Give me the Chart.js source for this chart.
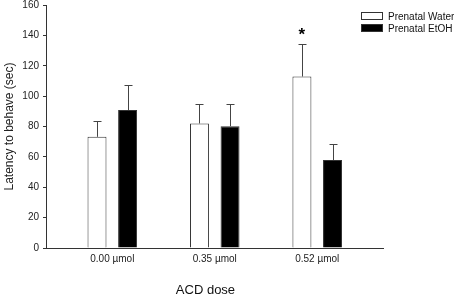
<!DOCTYPE html>
<html><head><meta charset="utf-8">
<script src="https://cdn.jsdelivr.net/npm/chart.js@4"></script>
<style>
html,body{margin:0;padding:0;background:#fff;}
#wrap{position:relative;width:454px;height:296px;}
#legend{position:absolute;left:361px;top:10px;font-family:"Liberation Sans",Arial,sans-serif;font-size:10px;color:#111;white-space:nowrap;}
.li{display:flex;align-items:center;height:12px;margin-bottom:0px;}
.sw{width:20px;height:6px;border:1px solid #333;margin-right:5px;}
</style></head>
<body><div id="wrap"><canvas id="c" width="454" height="296"></canvas><div id="legend"></div></div>
<script>
const categories = ["0.00 µmol", "0.35 µmol", "0.52 µmol"];
const seriesNames = ["Prenatal Water", "Prenatal EtOH"];
const waterMeans = [73.2, 82.0, 112.9];
const waterSEM = [10.1, 13.1, 21.7];
const etohMeans = [90.8, 80.2, 57.9];
const etohSEM = [16.6, 14.9, 10.3];
const yTicks = [0, 20, 40, 60, 80, 100, 120, 140, 160];
const sigMarks = [{ds: 0, cat: 2, text: "*"}];

const fills = ["#ffffff", "#000000"];
const means = [waterMeans, etohMeans];
const sems = [waterSEM, etohSEM];

const errPlugin = {
  id: 'errbars',
  afterDatasetsDraw(chart) {
    const ctx = chart.ctx, ys = chart.scales.y;
    ctx.save();
    chart.data.datasets.forEach((ds, di) => {
      const meta = chart.getDatasetMeta(di);
      meta.data.forEach((bar, i) => {
        const top = ys.getPixelForValue(means[di][i] + sems[di][i]);
        ctx.strokeStyle = '#444'; ctx.lineWidth = 1;
        ctx.beginPath();
        const x = Math.round(bar.x) + 0.5;
        ctx.moveTo(x, bar.y); ctx.lineTo(x, Math.round(top) + 0.5);
        ctx.moveTo(x - 4, Math.round(top) + 0.5); ctx.lineTo(x + 4, Math.round(top) + 0.5);
        ctx.stroke();
      });
    });
    sigMarks.forEach(m => {
      const bar = chart.getDatasetMeta(m.ds).data[m.cat];
      const top = ys.getPixelForValue(means[m.ds][m.cat] + sems[m.ds][m.cat]);
      ctx.fillStyle = '#000';
      ctx.font = 'bold 17px "Liberation Sans", Arial, sans-serif';
      ctx.textAlign = 'center'; ctx.textBaseline = 'middle';
      ctx.fillText(m.text, bar.x, top - 8);
    });
    ctx.restore();
  }
};

const chart = new Chart(document.getElementById('c'), {
  type: 'bar',
  data: {
    datasets: seriesNames.map((n, di) => ({
      label: n,
      data: means[di].map((v, i) => ({x: i, y: v})),
      backgroundColor: fills[di],
      borderColor: '#333',
      borderWidth: 1,
      categoryPercentage: 0.597,
      barPercentage: 0.62
    }))
  },
  options: {
    responsive: false,
    animation: false,
    devicePixelRatio: 1,
    layout: {padding: {top: 5, right: 71, left: 0, bottom: 0}},
    plugins: {legend: {display: false}, tooltip: {enabled: false}},
    scales: {
      x: {
        type: 'linear', min: -0.647, max: 2.642, offset: false,
        afterBuildTicks: s => { s.ticks = categories.map((c, i) => ({value: i})); },
        afterFit: s => { s.height = 48; s.paddingLeft = 0; s.paddingRight = 0; },
        ticks: {
          callback: v => categories[v],
          font: {family: '"Liberation Sans", Arial, sans-serif', size: 10},
          color: '#222', padding: 5, maxRotation: 0
        },
        grid: {display: false, drawTicks: false, offset: false},
        border: {display: true, color: '#333', width: 1},
        title: {display: true, text: 'ACD dose     ', color: '#111',
          font: {family: '"Liberation Sans", Arial, sans-serif', size: 13},
          padding: {top: 24, bottom: -2}}
      },
      y: {
        min: 0, max: 160,
        afterBuildTicks: s => { s.ticks = yTicks.map(v => ({value: v})); },
        afterFit: s => { s.width = 46; s.paddingTop = 0; s.paddingBottom = 0; },
        ticks: {font: {family: '"Liberation Sans", Arial, sans-serif', size: 10}, color: '#222', padding: 4},
        grid: {drawOnChartArea: false, drawTicks: true, tickLength: 3, color: '#333'},
        border: {display: true, color: '#333', width: 1},
        title: {display: true, text: 'Latency to behave (sec)', color: '#222',
          font: {family: '"Liberation Sans", Arial, sans-serif', size: 12}, padding: {top: 2, bottom: 2}}
      }
    }
  },
  plugins: [errPlugin]
});

const lg = document.getElementById('legend');
seriesNames.forEach((n, i) => {
  const d = document.createElement('div'); d.className = 'li';
  const s = document.createElement('span'); s.className = 'sw'; s.style.background = fills[i];
  const t = document.createElement('span'); t.textContent = n;
  d.appendChild(s); d.appendChild(t); lg.appendChild(d);
});
</script></body></html>
